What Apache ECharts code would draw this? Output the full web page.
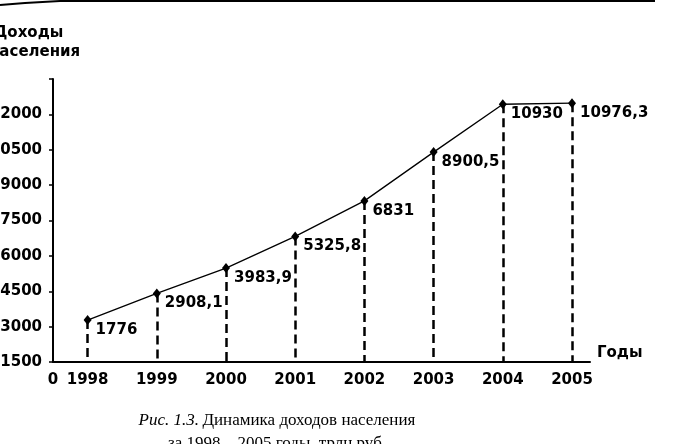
<!DOCTYPE html>
<html>
<head>
<meta charset="utf-8">
<script src="https://cdn.jsdelivr.net/npm/echarts@6/dist/echarts.min.js"></script>
<style>
html,body{margin:0;padding:0;background:#fff;}
#c{width:675px;height:444px;}
</style>
</head>
<body>
<div id="c"></div>
<script>
const years = [1998, 1999, 2000, 2001, 2002, 2003, 2004, 2005];
const incomes = [1776, 2908.1, 3983.9, 5325.8, 6831, 8900.5, 10930, 10976.3];
const yTickLabels = ['1500', '3000', '4500', '6000', '7500', '9000', '10500', '12000', ''];
const xOriginLabel = '0';
const yTitleLines = ['Доходы', 'населения'];
const xName = 'Годы';
const captionLine1 = ['Рис. 1.3.', 'Динамика доходов населения'];
const captionLine2 = 'за 1998—2005 годы, трлн руб.';

const FONT = 'DejaVu Sans';
const chart = echarts.init(document.getElementById('c'), null, {renderer: 'canvas'});

const option = {
  backgroundColor: '#fff',
  animation: false,
  grid: {left: 53, right: 85, top: 79, bottom: 82, containLabel: false, outerBoundsMode: 'none'},
  xAxis: {
    type: 'value',
    min: 1997.5,
    max: 2005.26,
    name: xName,
    nameLocation: 'end',
    nameGap: 7,
    nameTextStyle: {fontFamily: FONT, fontWeight: 'bold', fontSize: 15, color: '#000', verticalAlign: 'bottom', padding: [0, 0, 1, 0]},
    axisLine: {show: true, lineStyle: {color: '#000', width: 2}},
    axisTick: {show: false},
    splitLine: {show: false},
    axisLabel: {
      customValues: [1997.5].concat(years),
      formatter: function (v) { return v === 1997.5 ? xOriginLabel : String(v); },
      fontFamily: FONT, fontWeight: 'bold', fontSize: 15, color: '#000', margin: 11
    }
  },
  yAxis: {
    type: 'value',
    min: 0,
    max: 12000,
    interval: 1500,
    axisLine: {show: true, lineStyle: {color: '#000', width: 2}},
    axisTick: {show: true, length: 4, lineStyle: {color: '#000', width: 1.5}},
    splitLine: {show: false},
    axisLabel: {
      formatter: function (v) { return yTickLabels[Math.round(v / 1500)]; },
      fontFamily: FONT, fontWeight: 'bold', fontSize: 15, color: '#000', margin: 11
    }
  },
  series: [{
    type: 'line',
    data: years.map(function (y, i) { return [y, incomes[i]]; }),
    symbol: 'diamond',
    symbolSize: [8, 10],
    lineStyle: {color: '#000', width: 1.3},
    itemStyle: {color: '#000'},
    z: 3,
    label: {
      show: true,
      position: 'right',
      offset: [0, 10],
      distance: 4,
      formatter: function (p) { return String(p.value[1]).replace('.', ','); },
      fontFamily: FONT, fontWeight: 'bold', fontSize: 15, color: '#000'
    },
    markLine: {
      silent: true,
      symbol: ['none', 'none'],
      label: {show: false},
      lineStyle: {color: '#000', width: 2.5, type: [9, 5]},
      data: years.map(function (y, i) { return [{coord: [y, incomes[i]]}, {coord: [y, 0]}]; })
    }
  }],
  graphic: [
    {type: 'polyline', shape: {points: [[0, 5], [25, 3], [60, 1], [655, 1]]}, style: {stroke: '#000', lineWidth: 2, fill: null}},
    {type: 'text', x: -6, y: 41, style: {text: yTitleLines[0], font: 'bold 15px "DejaVu Sans"', fill: '#000', textAlign: 'left', textVerticalAlign: 'bottom'}},
    {type: 'text', x: -11, y: 60, style: {text: yTitleLines[1], font: 'bold 15px "DejaVu Sans"', fill: '#000', textAlign: 'left', textVerticalAlign: 'bottom'}},
    {type: 'text', x: 277, y: 429, style: {
      text: '{i|' + captionLine1[0] + '} {r|' + captionLine1[1] + '}',
      textAlign: 'center', textVerticalAlign: 'bottom', fill: '#000',
      rich: {
        i: {fontFamily: 'Liberation Serif', fontStyle: 'italic', fontSize: 17, color: '#000'},
        r: {fontFamily: 'Liberation Serif', fontSize: 17, color: '#000'}
      }
    }},
    {type: 'text', x: 277, y: 452, style: {text: captionLine2, font: '17px "Liberation Serif"', fill: '#000', textAlign: 'center', textVerticalAlign: 'bottom'}}
  ]
};
chart.setOption(option);
</script>
</body>
</html>
